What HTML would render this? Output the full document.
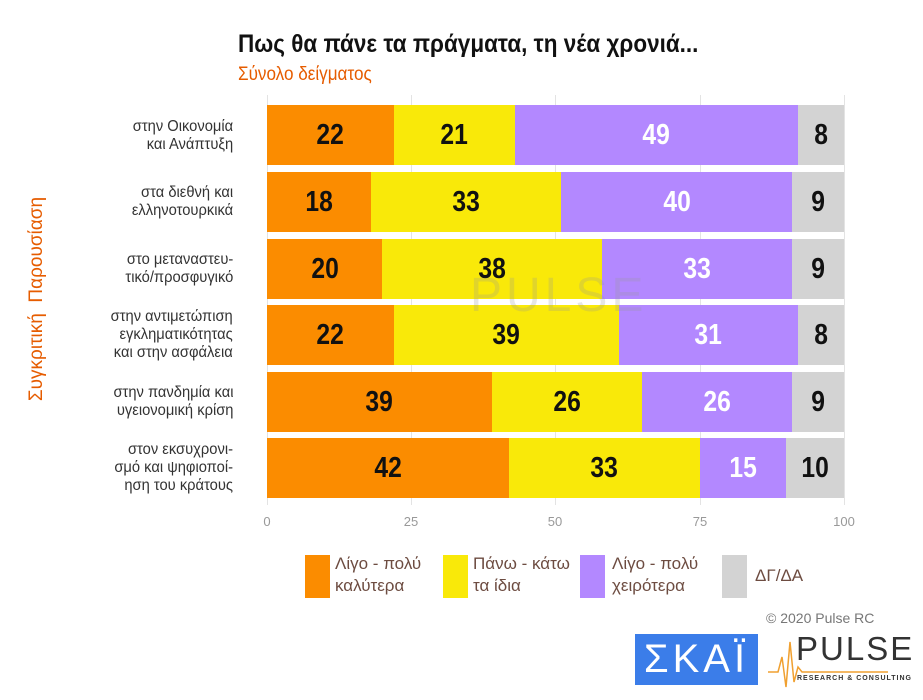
<!DOCTYPE html>
<html><head><meta charset="utf-8"><style>
body{margin:0;width:923px;height:700px;background:#fff;position:relative;overflow:hidden;font-family:"Liberation Sans",sans-serif}
.a{position:absolute}
.g{position:absolute;top:95px;height:410px;width:1px;background:#e3e3e3}
.seg{position:absolute;height:60px;display:flex;align-items:center;justify-content:center;font-weight:bold;font-size:29px;font-family:"Liberation Sans",sans-serif}
.seg span{display:inline-block;transform:scaleX(0.85)}
.o{background:#fb8c00;color:#111}.y{background:#f9e909;color:#111}.p{background:#b388ff;color:#fff}.d{background:#d3d3d3;color:#111}
.lab{position:absolute;right:690px;text-align:right;font-size:16px;color:#333;line-height:18px;transform:scaleX(0.92);transform-origin:right;white-space:nowrap}
.t{position:absolute;top:514px;font-size:13px;color:#999;width:40px;text-align:center}
.lg{position:absolute;top:555px;width:25px;height:43px}
.lt{position:absolute;top:553px;font-size:17px;color:#6d4c41;line-height:22px}
</style></head><body>
<div class="a" style="left:238px;top:30px;font-size:25px;font-weight:bold;color:#111;transform:scaleX(0.9);transform-origin:left;white-space:nowrap">Πως θα πάνε τα πράγματα, τη νέα χρονιά...</div>
<div class="a" style="left:238px;top:64px;font-size:19px;color:#e65c00;transform:scaleX(0.9);transform-origin:left">Σύνολο δείγματος</div>
<div class="a" style="left:-83px;top:288px;width:240px;text-align:center;font-size:19px;color:#e65c00;transform:rotate(-90deg);white-space:nowrap">Συγκριτική&nbsp; Παρουσίαση</div>
<div class="g" style="left:267px"></div><div class="g" style="left:411px"></div><div class="g" style="left:555px"></div><div class="g" style="left:700px"></div><div class="g" style="left:844px"></div>
<div id="bars"></div>
<div class="lab" style="top:118px">στην Οικονομία<br>και Ανάπτυξη</div>
<div class="lab" style="top:184px">στα διεθνή και<br>ελληνοτουρκικά</div>
<div class="lab" style="top:251px">στο μεταναστευ-<br>τικό/προσφυγικό</div>
<div class="lab" style="top:308px">στην αντιμετώπιση<br>εγκληματικότητας<br>και στην ασφάλεια</div>
<div class="lab" style="top:384px">στην πανδημία και<br>υγειονομική κρίση</div>
<div class="lab" style="top:441px">στον εκσυχρονι-<br>σμό και ψηφιοποί-<br>ηση του κράτους</div>
<div class="t" style="left:247px">0</div><div class="t" style="left:391px">25</div><div class="t" style="left:535px">50</div><div class="t" style="left:680px">75</div><div class="t" style="left:824px">100</div>
<div class="a" style="left:470px;top:268px;font-size:48px;color:rgba(150,150,150,0.25);letter-spacing:4px">PULSE</div>
<div class="lg o" style="left:305px"></div><div class="lt" style="left:335px">Λίγο - πολύ<br>καλύτερα</div>
<div class="lg y" style="left:443px"></div><div class="lt" style="left:473px">Πάνω - κάτω<br>τα ίδια</div>
<div class="lg p" style="left:580px"></div><div class="lt" style="left:612px">Λίγο - πολύ<br>χειρότερα</div>
<div class="lg d" style="left:722px"></div><div class="lt" style="left:755px;top:565px">ΔΓ/ΔΑ</div>
<div class="a" style="left:766px;top:610px;font-size:14px;color:#777">© 2020 Pulse RC</div>
<div class="a" style="left:635px;top:634px;width:123px;height:51px;background:#3b7de9;color:#fff;font-size:40px;text-align:center;line-height:51px;letter-spacing:4px">ΣΚΑΪ</div>
<svg class="a" style="left:768px;top:632px" width="145" height="60"><polyline points="0,40 10,40 14,25 18,55 22,10 26,50 30,35 34,40 120,40" fill="none" stroke="#f0a030" stroke-width="1.5"/></svg>
<div class="a" style="left:796px;top:630px;font-size:33px;color:#333;letter-spacing:2px;white-space:nowrap">PULSE</div>
<div class="a" style="left:797px;top:675px;font-size:7px;font-weight:bold;color:#333;letter-spacing:1px;white-space:nowrap">RESEARCH &amp; CONSULTING</div>
<script>
var d=[[22,21,49,8],[18,33,40,9],[20,38,33,9],[22,39,31,8],[39,26,26,9],[42,33,15,10]];
var tops=[105,172,239,305,372,438],c=['o','y','p','d'],h='';
d.forEach(function(r,i){var x=267;r.forEach(function(v,j){var w=v*5.77;h+='<div class="seg '+c[j]+'" style="left:'+x+'px;top:'+tops[i]+'px;width:'+w+'px"><span>'+v+'</span></div>';x+=w;});});
document.getElementById('bars').innerHTML=h;
</script>
</body></html>
